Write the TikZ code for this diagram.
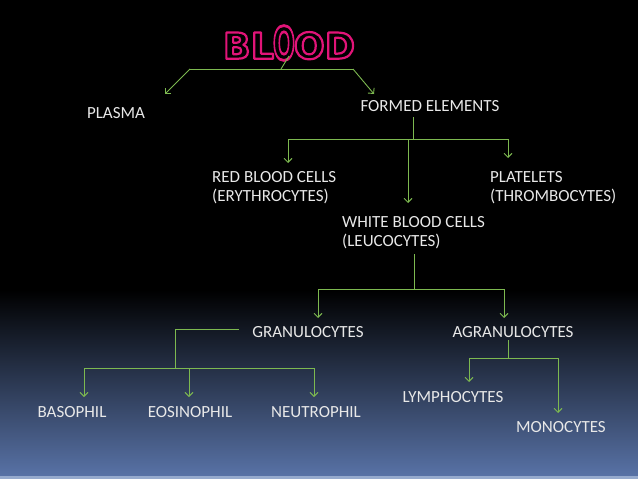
\documentclass[tikz,border=0pt]{standalone}
\usepackage{fontspec}
\setmainfont{Carlito}
\newfontfamily\titlefont{DejaVu Sans}
\usetikzlibrary{arrows.meta}
\definecolor{linegreen}{RGB}{125,185,80}
\definecolor{txtgray}{RGB}{232,232,232}
\definecolor{bgblue}{RGB}{88,114,166}
\definecolor{bgstrip}{RGB}{150,170,205}
\definecolor{neonpink}{RGB}{225,20,120}
\tikzset{
  lbl/.style={text=txtgray, inner sep=0pt, font=\fontsize{17}{19}\selectfont},
  lbl2/.style={lbl, align=left, anchor=west},
  conn/.style={draw=linegreen, line width=0.9pt},
  arr/.style={conn, -{Straight Barb[length=4pt,width=8pt]}},
  titletxt/.style={inner sep=0pt, font=\titlefont\bfseries\fontsize{36}{36}\selectfont}
}
\newcommand{\neonon}{\special{pdf:literal direct 2 Tr 2.2 w 1 j 0.882 0.078 0.471 RG}}
\newcommand{\neonoff}{\special{pdf:literal direct 0 Tr 0 G}}
\newcommand{\bloodword}{\neonon B\kern0.5pt L\kern-1pt\raisebox{-1pt}{\scalebox{0.72}[1.28]{\neonon O}}\kern-1pt\neonon O\kern0.5pt D\neonoff}
\begin{document}
\begin{tikzpicture}[x=1pt,y=-1pt]
\useasboundingbox (0,0) rectangle (638,479);
\fill[black] (0,0) rectangle (638,479);
\shade[top color=black, bottom color=bgblue] (0,290) rectangle (638,476);
\fill[bgstrip] (0,476) rectangle (638,479);

% title: black letters with neon pink outline
\node[titletxt, text=black] (blood) at (289,43) {\bloodword};

% labels
\node[lbl] (plasma) at (116,113) {PLASMA};
\node[lbl] (formed) at (430,106) {FORMED ELEMENTS};
\node[lbl2] (rbc) at (212,188) {RED BLOOD CELLS\\(ERYTHROCYTES)};
\node[lbl2] (plat) at (490,188) {PLATELETS\\(THROMBOCYTES)};
\node[lbl2] (wbc) at (342,233) {WHITE BLOOD CELLS\\(LEUCOCYTES)};
\node[lbl] (gran) at (308,332) {GRANULOCYTES};
\node[lbl] (agran) at (513,332) {AGRANULOCYTES};
\node[lbl] (baso) at (72,412) {BASOPHIL};
\node[lbl] (eosi) at (190,412) {EOSINOPHIL};
\node[lbl] (neut) at (316,412) {NEUTROPHIL};
\node[lbl] (lymph) at (453,397) {LYMPHOCYTES};
\node[lbl] (mono) at (561,427) {MONOCYTES};

% coordinates
\coordinate (t0) at (289,56);
\coordinate (t1) at (281,69);
\coordinate (tl) at (190,69);
\coordinate (tr) at (353,69);
\coordinate (tlp) at (165,94);
\coordinate (trp) at (374,94);

\coordinate (f0) at (413,117);
\coordinate (f1) at (413,139);
\coordinate (fl) at (288,139);
\coordinate (fm) at (408,139);
\coordinate (fr) at (508,139);
\coordinate (flp) at (288,163);
\coordinate (fmp) at (408,203);
\coordinate (frp) at (508,158);

\coordinate (w0) at (414,254);
\coordinate (w1) at (414,289);
\coordinate (wl) at (318,289);
\coordinate (wr) at (504,289);
\coordinate (wlp) at (318,318);
\coordinate (wrp) at (504,318);

\coordinate (g0) at (239,329);
\coordinate (g1) at (175,329);
\coordinate (g2) at (175,368);
\coordinate (gl) at (84,368);
\coordinate (gm) at (189,368);
\coordinate (gr) at (314,368);
\coordinate (glp) at (84,397);
\coordinate (gmp) at (189,397);
\coordinate (grp) at (314,397);

\coordinate (a0) at (508,340);
\coordinate (a1) at (508,358);
\coordinate (al) at (469,358);
\coordinate (ar) at (558,358);
\coordinate (alp) at (469,382);
\coordinate (arp) at (558,413);

% connectors
\draw[conn] (t0) -- (t1);
\draw[conn] (tl) -- (tr);
\draw[arr] (tl) -- (tlp);
\draw[arr] (tr) -- (trp);

\draw[conn] (f0) -- (f1);
\draw[conn] (fl) -- (fr);
\draw[arr] (fl) -- (flp);
\draw[arr] (fm) -- (fmp);
\draw[arr] (fr) -- (frp);

\draw[conn] (w0) -- (w1);
\draw[conn] (wl) -- (wr);
\draw[arr] (wl) -- (wlp);
\draw[arr] (wr) -- (wrp);

\draw[conn] (g0) -- (g1) -- (g2);
\draw[conn] (gl) -- (gr);
\draw[arr] (gl) -- (glp);
\draw[arr] (gm) -- (gmp);
\draw[arr] (gr) -- (grp);

\draw[conn] (a0) -- (a1);
\draw[conn] (al) -- (ar);
\draw[arr] (al) -- (alp);
\draw[arr] (ar) -- (arp);
\end{tikzpicture}
\end{document}
